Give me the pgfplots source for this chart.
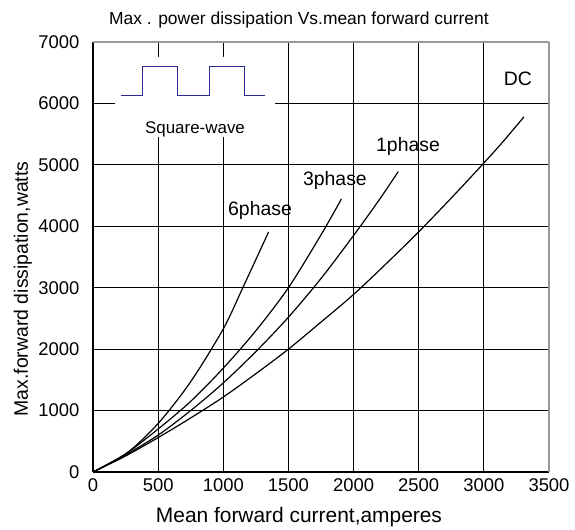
\documentclass[border=0pt]{standalone}
\usepackage{fontspec}
\setmainfont{Liberation Sans}
\usepackage{pgfplots}
\pgfplotsset{compat=1.18}
\definecolor{wave}{RGB}{40,40,150}
\begin{document}
\begin{tikzpicture}
\begin{axis}[
  scale only axis, width=456bp, height=430bp,
  xmin=0, xmax=3500, ymin=0, ymax=7000,
  xtick={0,500,...,3000}, extra x ticks={3500},
  extra x tick style={grid style={gray!80, line width=1.6pt}},
  ytick={0,1000,...,6000}, extra y ticks={7000},
  extra y tick style={grid style={gray!80, line width=1.6pt}},
  axis lines=left, axis line style={black, line width=1.2pt, -},
  grid=major, grid style={black, line width=1.1pt},
  major tick length=0pt,
  /pgf/number format/assume math mode=true,
  /pgf/number format/1000 sep={},
  tick label style={font=\fontsize{18.5}{18.5}\selectfont},
  yticklabel style={xshift=-10bp},
  xticklabel style={yshift=-3bp},
  clip=false,
]
\coordinate (BL) at (axis cs:0,0);
\coordinate (TR) at (axis cs:3500,7000);
% white patch behind the inset
\addplot[fill=white, draw=none] coordinates {(169,5454) (1397,5454) (1397,6756) (169,6756) (169,5454)};
% square wave inset
\addplot[wave, line width=0.8pt] coordinates {(215,6138) (376,6138) (376,6610) (645,6610) (645,6138) (890,6138) (890,6610) (1159,6610) (1159,6138) (1320,6138)};
% DC
\addplot[black, line width=1.2pt, smooth] coordinates {(0,0) (250,260) (500,560) (750,880) (1000,1220) (1250,1600) (1500,2000) (1750,2440) (2000,2890) (2250,3390) (2500,3910) (2750,4460) (3000,5030) (3150,5385) (3308,5782)};
% 1phase
\addplot[black, line width=1.2pt, smooth] coordinates {(0,0) (250,280) (500,600) (750,1000) (1000,1450) (1250,1960) (1500,2520) (1750,3150) (2000,3850) (2200,4440) (2343,4890)};
% 3phase
\addplot[black, line width=1.2pt, smooth] coordinates {(0,0) (250,295) (500,700) (750,1150) (1000,1690) (1250,2300) (1500,3000) (1750,3860) (1907,4446)};
% 6phase
\addplot[black, line width=1.2pt, smooth] coordinates {(0,0) (250,290) (500,790) (750,1470) (1000,2330) (1150,3000) (1348,3909)};
\node[anchor=base, font=\fontsize{19.5}{19.5}\selectfont] at (axis cs:1282,4168) {6phase};
\node[anchor=base, font=\fontsize{19.5}{19.5}\selectfont] at (axis cs:1857,4656) {3phase};
\node[anchor=base, font=\fontsize{19.5}{19.5}\selectfont] at (axis cs:2418,5215) {1phase};
\node[anchor=base, font=\fontsize{19.5}{19.5}\selectfont] at (axis cs:3262,6284) {DC};
\node[anchor=base, font=\fontsize{17}{17}\selectfont] at (axis cs:783,5503) {Square-wave};
\node[anchor=base, font=\fontsize{17.5}{17.5}\selectfont] at (axis cs:1581,7290) {Max . power dissipation Vs.mean forward current};
\node[anchor=base, font=\fontsize{21}{21}\selectfont] at (axis cs:1581,-830) {Mean forward current,amperes};
\node[anchor=base, rotate=90, font=\fontsize{19.5}{19.5}\selectfont] at (axis cs:-499,2980) {Max.forward dissipation,watts};
\end{axis}
\pgfresetboundingbox
\useasboundingbox ([xshift=-93bp,yshift=-58bp]BL) rectangle ([xshift=26bp,yshift=42bp]TR);
\end{tikzpicture}
\end{document}
